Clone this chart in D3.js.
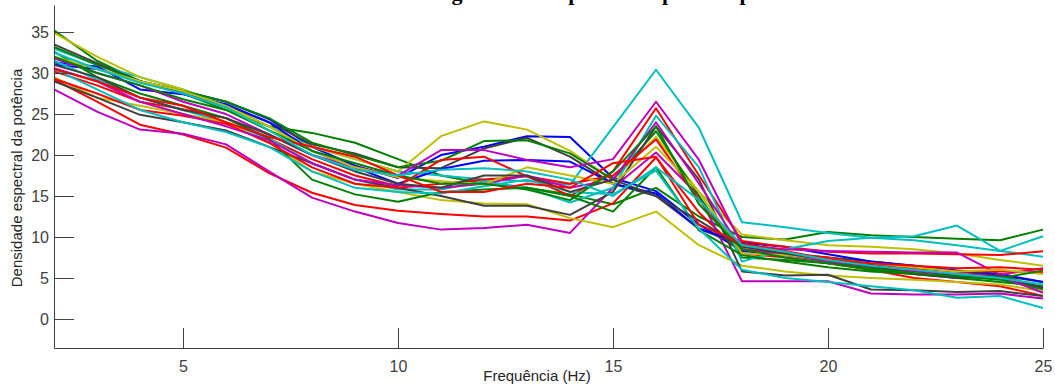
<!DOCTYPE html>
<html>
<head>
<meta charset="utf-8">
<script src="https://cdn.jsdelivr.net/npm/d3@7"></script>
<style>
  body { margin: 0; background: #fff; }
  text { font-family: "Liberation Sans", Arial, sans-serif; }
</style>
</head>
<body>
<div id="chart"></div>
<script>
// frequencies (Hz)
var freqs = [2,3,4,5,6,7,8,9,10,11,12,13,14,15,16,17,18,19,20,21,22,23,24,25];
var yTicks = [0,5,10,15,20,25,30,35];
var xTicks = [5,10,15,20,25];

var blue1    = [31.0,30.5,29.0,27.8,26.5,24.4,21.0,18.7,17.2,20.0,21.0,22.3,22.2,17.2,15.6,11.5,8.3,7.8,7.3,6.7,6.0,5.2,4.9,3.8];
var blue2    = [31.3,30.8,28.0,27.4,26.2,24.0,20.5,18.5,16.5,18.3,19.3,19.4,19.2,16.5,15.3,11.0,9.3,8.8,7.9,7.0,6.5,5.9,5.5,4.5];
var green1   = [35.2,31.5,29.0,27.5,25.5,23.5,22.7,21.5,19.5,17.5,16.5,16.0,15.2,14.0,16.0,12.5,10.0,9.7,10.6,10.2,10.0,9.8,9.6,10.9];
var green2   = [33.2,31.0,29.0,27.8,26.5,24.5,21.5,20.0,18.5,19.3,21.7,21.8,20.2,17.0,22.9,15.0,7.5,7.2,6.8,6.0,5.5,5.2,4.8,3.6];
var green3   = [32.6,29.5,27.5,26.0,24.5,22.0,17.0,15.2,14.3,15.5,15.8,16.0,15.0,13.1,18.5,10.8,7.8,7.0,6.3,5.8,5.5,5.0,4.5,4.0];
var green4   = [32.0,30.0,28.5,26.8,25.5,23.0,20.5,19.0,17.5,16.5,16.5,15.8,14.5,18.0,23.5,14.0,8.5,7.5,6.8,6.2,5.6,5.2,5.0,5.9];
var red1     = [29.2,26.5,23.7,22.5,20.9,17.8,15.4,13.9,13.2,12.8,12.5,12.5,12.0,14.1,19.7,13.0,8.0,7.5,6.8,6.0,5.0,4.5,4.0,2.8];
var red2     = [30.2,28.5,26.5,25.6,24.5,22.0,19.5,17.5,16.2,19.4,19.8,17.4,15.0,18.0,25.7,17.5,9.5,8.8,8.2,8.0,8.0,7.9,7.8,8.25];
var red3     = [29.3,27.5,25.5,24.8,23.8,21.5,18.5,16.5,16.0,16.5,17.0,17.4,16.5,17.5,21.9,14.5,8.5,8.0,7.5,6.5,6.2,5.8,5.8,5.7];
var red4     = [30.5,29.0,27.0,26.0,24.0,22.2,21.0,19.8,17.5,15.5,15.5,16.5,16.0,19.0,19.8,11.5,9.2,8.3,7.3,6.8,6.5,6.2,6.3,6.0];
var cyan1    = [33.0,31.0,29.5,28.0,26.0,23.5,21.0,19.5,18.0,17.5,17.0,16.8,16.4,23.4,30.4,23.3,11.8,11.2,10.5,9.9,9.6,9.0,8.3,7.6];
var cyan2    = [31.5,29.2,27.0,25.5,24.0,22.0,19.0,17.0,15.8,15.8,16.8,16.0,14.2,16.0,24.8,18.5,7.0,8.5,9.5,9.9,10.1,11.4,8.3,10.1];
var cyan3    = [30.5,28.0,25.5,24.0,22.8,21.0,18.0,16.0,15.5,15.3,16.2,17.0,15.5,15.2,18.1,11.0,6.0,5.0,4.5,4.0,3.5,2.6,2.8,1.35];
var cyan4    = [32.5,30.5,28.8,27.5,25.8,23.0,20.0,18.2,17.5,18.2,18.4,18.0,17.0,15.0,18.5,14.5,9.0,8.2,7.2,6.5,6.0,5.5,5.0,4.2];
var magenta1 = [28.0,25.3,23.1,22.6,21.3,18.0,14.8,13.1,11.7,10.9,11.1,11.5,10.5,16.0,20.3,15.0,4.6,4.6,4.6,3.1,3.0,3.0,3.1,2.5];
var magenta2 = [31.8,30.0,28.5,26.5,25.0,22.5,20.0,18.5,17.5,20.6,20.6,19.4,18.5,19.5,26.5,19.4,9.0,8.5,8.3,8.2,8.1,8.1,5.4,6.2];
var magenta3 = [30.6,29.0,26.5,25.0,23.5,21.8,19.0,17.0,16.3,16.0,16.5,17.5,16.0,17.0,24.0,16.5,8.5,7.8,7.0,6.3,5.8,5.5,5.2,3.2];
var yellow1  = [34.9,32.0,29.5,28.0,26.0,23.0,21.0,19.5,18.0,22.3,24.1,23.1,20.5,17.0,22.2,15.5,10.3,9.6,9.0,8.8,8.5,8.0,7.2,6.5];
var yellow2  = [29.5,27.0,26.0,25.0,24.0,21.5,18.0,16.5,15.5,14.5,14.1,14.0,12.3,11.2,13.1,9.0,6.5,5.8,5.3,5.0,4.8,4.5,4.2,3.4];
var yellow3  = [32.0,30.5,29.0,27.8,26.0,23.5,20.5,18.5,17.3,16.8,16.4,18.5,17.5,16.5,21.0,15.5,8.0,7.8,7.3,6.8,6.3,5.8,6.0,5.5];
var gray1    = [33.5,31.2,29.0,27.5,26.0,24.0,21.3,20.2,18.5,18.4,20.8,22.1,19.8,16.5,15.0,11.0,9.0,8.0,7.5,7.0,6.5,5.8,5.3,4.5];
var gray2    = [29.0,27.0,24.9,24.0,23.0,21.0,19.0,17.0,16.0,15.0,13.8,13.8,12.7,15.5,23.5,17.0,5.8,5.3,5.4,3.6,3.5,3.3,3.4,2.8];
var gray3    = [31.0,29.5,27.0,25.5,24.5,22.5,20.0,18.0,16.5,16.0,17.5,17.5,15.5,17.0,15.0,12.0,8.8,8.0,7.2,6.5,5.5,5.0,5.3,3.8];

var seriesList = [
  {c: "#0000ff", v: blue1}, {c: "#008000", v: green1}, {c: "#ff0000", v: red1},
  {c: "#00bfbf", v: cyan1}, {c: "#bf00bf", v: magenta1}, {c: "#bfbf00", v: yellow1},
  {c: "#404040", v: gray1},
  {c: "#0000ff", v: blue2}, {c: "#008000", v: green2}, {c: "#ff0000", v: red2},
  {c: "#00bfbf", v: cyan2}, {c: "#bf00bf", v: magenta2}, {c: "#bfbf00", v: yellow2},
  {c: "#404040", v: gray2},
  {c: "#008000", v: green3}, {c: "#ff0000", v: red3},
  {c: "#00bfbf", v: cyan3}, {c: "#bf00bf", v: magenta3}, {c: "#bfbf00", v: yellow3},
  {c: "#404040", v: gray3},
  {c: "#008000", v: green4}, {c: "#ff0000", v: red4}, {c: "#00bfbf", v: cyan4}
];

var width = 1055, height = 385;
var margin = {top: 5, right: 12, bottom: 37, left: 54};

var svg = d3.select("#chart")
  .append("svg")
  .attr("width", width)
  .attr("height", height);

var x = d3.scaleLinear()
  .domain([2, 25])
  .range([margin.left, width - margin.right]);

var y = d3.scaleLinear()
  .domain([-3.54, 38.3])
  .range([height - margin.bottom, margin.top]);

// lines
var line = d3.line()
  .x(function(d, i) { return x(freqs[i]); })
  .y(function(d) { return y(d); });

svg.append("g")
  .selectAll("path")
  .data(seriesList)
  .enter()
  .append("path")
  .attr("d", function(s) { return line(s.v); })
  .attr("fill", "none")
  .attr("stroke", function(s) { return s.c; })
  .attr("stroke-width", 2)
  .attr("stroke-linejoin", "round");

// X axis
var xAxis = svg.append("g")
  .attr("transform", "translate(0," + (height - margin.bottom) + ")")
  .call(d3.axisBottom(x).tickValues(xTicks).tickSizeInner(-20).tickSizeOuter(0).tickPadding(13));

// Y axis
var yAxis = svg.append("g")
  .attr("transform", "translate(" + margin.left + ",0)")
  .call(d3.axisLeft(y).tickValues(yTicks).tickSizeInner(-20).tickSizeOuter(0).tickPadding(5));

[xAxis, yAxis].forEach(function(a) {
  a.select(".domain").attr("stroke", "#404040").attr("stroke-width", 1);
  a.selectAll(".tick line").attr("stroke", "#404040");
  a.selectAll(".tick text")
    .attr("fill", "#404040")
    .style("font-size", "16px")
    .style("font-family", "'Liberation Sans', Arial, sans-serif");
});

svg.append("text")
  .attr("x", 537)
  .attr("y", 381)
  .attr("text-anchor", "middle")
  .attr("fill", "#262626")
  .style("font-size", "15px")
  .text("Frequência (Hz)");

svg.append("text")
  .attr("transform", "translate(22," + 178 + ") rotate(-90)")
  .attr("text-anchor", "middle")
  .attr("fill", "#262626")
  .style("font-size", "15px")
  .text("Densidade espectral da potência");

// title (cut off at the top edge, as in the source figure)
svg.append("text")
  .attr("x", 432)
  .attr("y", 0)
  .attr("fill", "#000")
  .style("font-family", "'Liberation Serif', 'Times New Roman', serif")
  .style("font-weight", "bold")
  .style("font-size", "22px")
  .text("Figura 14 – Espectro do período pós-teste");
</script>
</body>
</html>
